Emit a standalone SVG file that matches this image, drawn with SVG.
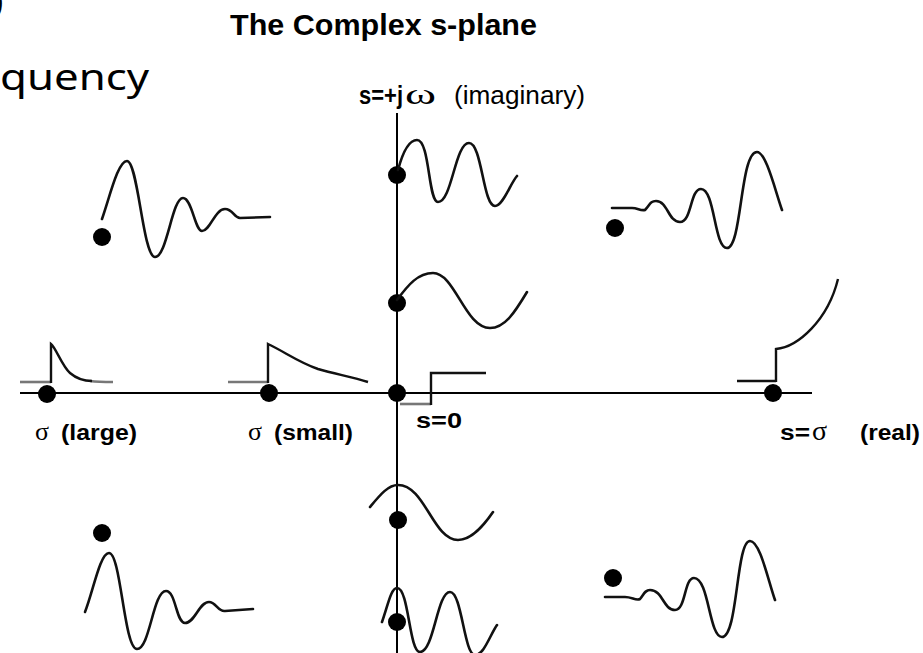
<svg xmlns="http://www.w3.org/2000/svg" width="923" height="653" viewBox="0 0 923 653">
<style>
.w{fill:none;stroke:#111;stroke-width:2.6;stroke-linejoin:round;stroke-linecap:round}
.g{fill:none;stroke:#777;stroke-width:2.6}
.k{fill:none;stroke:#111;stroke-width:2.4}
.ax{stroke:#000;stroke-width:2}
.d{fill:#000}
.b{font-family:"Liberation Sans",Arial,sans-serif;font-weight:bold;fill:#000}
.r{font-family:"Liberation Sans",Arial,sans-serif;font-weight:normal;fill:#000}
.sy{font-family:"Liberation Serif","DejaVu Serif",serif;font-weight:normal;fill:#000}
.q{font-family:"Noto Sans","DejaVu Sans",sans-serif;fill:#000}
</style>
<rect width="923" height="653" fill="#fff"/>
<text class="q" x="-7" y="13" font-size="34">)</text>
<text class="q" x="0" y="90" font-size="37" textLength="149" lengthAdjust="spacingAndGlyphs">quency</text>
<text class="b" x="230" y="35" font-size="30" textLength="307" lengthAdjust="spacingAndGlyphs">The Complex s-plane</text>
<g id="labels">
<text class="b" x="359" y="104" font-size="26"><tspan textLength="44" lengthAdjust="spacingAndGlyphs">s=+j</tspan><tspan class="sy" x="405" font-size="30" textLength="31" lengthAdjust="spacingAndGlyphs">ω</tspan><tspan class="r" x="454" font-size="25" textLength="131" lengthAdjust="spacingAndGlyphs">(imaginary)</tspan></text>
<text class="sy" x="35" y="440" font-size="26">σ</text>
<text class="b" x="61" y="440" font-size="22" textLength="76" lengthAdjust="spacingAndGlyphs">(large)</text>
<text class="sy" x="248" y="440" font-size="26">σ</text>
<text class="b" x="274" y="440" font-size="22" textLength="79" lengthAdjust="spacingAndGlyphs">(small)</text>
<text class="b" x="416" y="428" font-size="22" textLength="46" lengthAdjust="spacingAndGlyphs">s=0</text>
<text class="b" x="780" y="440" font-size="22" textLength="30" lengthAdjust="spacingAndGlyphs">s=</text>
<text class="sy" x="812" y="440" font-size="28">σ</text>
<text class="b" x="860" y="440" font-size="22" textLength="60" lengthAdjust="spacingAndGlyphs">(real)</text>
</g>
<g id="connectors">
<line class="ax" x1="397" y1="113" x2="397" y2="653"/>
<line class="ax" x1="20" y1="393" x2="812" y2="393"/>
</g>
<g id="node-tl">
<circle class="d" cx="102" cy="237" r="9"/>
<path class="w" d="M102,219 C110,196 118,161 127,161 C138,161 143,257 155,257 C167,257 172,198 183,198 C192,198 195,231 202,231 C210,231 215,209 225,209 C233,209 234,218 240,218 L270,217"/>
</g>
<g id="node-tc">
<circle class="d" cx="397" cy="175" r="9"/>
<path class="w" d="M398,170 C402,155 408,140 417,140 C430,140 428,202 438,202 C452,202 455,143 469,143 C482,143 483,206 495,206 C503,206 510,184 517,176"/>
</g>
<g id="node-tr">
<circle class="d" cx="615" cy="228" r="9"/>
<path class="w" d="M612,208 L632,208 C638,208 640,211 645,210 C650,205 650,201 656,201 C668,201 668,222 680,222 C692,222 690,189 701,189 C715,189 714,248 727,248 C742,248 740,152 757,152 C766,152 775,190 782,210"/>
</g>
<g id="node-mc">
<circle class="d" cx="397" cy="303" r="9"/>
<path class="w" d="M397,300 C408,285 418,273 433,273 C455,273 465,328 490,328 C505,328 515,312 527,292"/>
</g>
<g id="node-origin">
<circle class="d" cx="397" cy="393" r="9"/>
<path class="g" d="M400,404 L431,404"/>
<path class="k" d="M431,405 L431,373 L486,373"/>
</g>
<g id="node-sl">
<circle class="d" cx="47" cy="394" r="9"/>
<path class="g" d="M20,382 L51,382"/>
<path class="g" d="M90,381 C98,382 105,382 113,382"/>
<path class="k" d="M51,383 L51,344 C56,348 62,366 70,373 C77,379 84,381 92,381"/>
</g>
<g id="node-ss">
<circle class="d" cx="269" cy="393" r="9"/>
<path class="g" d="M228,382 L268,382"/>
<path class="k" d="M268,383 L268,344 C285,352 298,362 318,369 C335,374 352,377 368,382"/>
</g>
<g id="node-sr">
<circle class="d" cx="773" cy="393" r="9"/>
<path class="k" d="M737,381 L776,381"/>
<path class="k" d="M776,382 L776,349 C798,347 828,320 838,279"/>
</g>
<g id="node-bc1">
<circle class="d" cx="398" cy="520" r="9"/>
<path class="w" d="M370,507 C380,495 388,485 398,485 C425,485 433,540 458,540 C472,540 484,525 493,512"/>
</g>
<g id="node-bc2">
<circle class="d" cx="397" cy="622" r="9"/>
<path class="w" d="M382,622 C388,605 391,588 397,588 C409,588 409,652 420,652 C434,652 437,592 450,592 C462,592 464,655 475,655 C484,655 490,635 497,625"/>
</g>
<g id="node-bl">
<circle class="d" cx="102" cy="533" r="9"/>
<path class="w" d="M85,612 C93,592 100,553 109,553 C121,553 124,649 137,649 C150,649 153,591 166,591 C176,591 176,623 185,623 C195,623 199,602 209,602 C216,602 218,612 225,611 L253,609"/>
</g>
<g id="node-br">
<circle class="d" cx="613" cy="578" r="9"/>
<path class="w" d="M605,597 L625,597 C632,597 636,601 640,599 C644,594 645,590 650,590 C663,590 663,610 675,610 C686,610 684,578 694,578 C709,578 709,637 722,637 C738,637 736,541 750,541 C760,541 768,580 775,600"/>
</g>
</svg>
